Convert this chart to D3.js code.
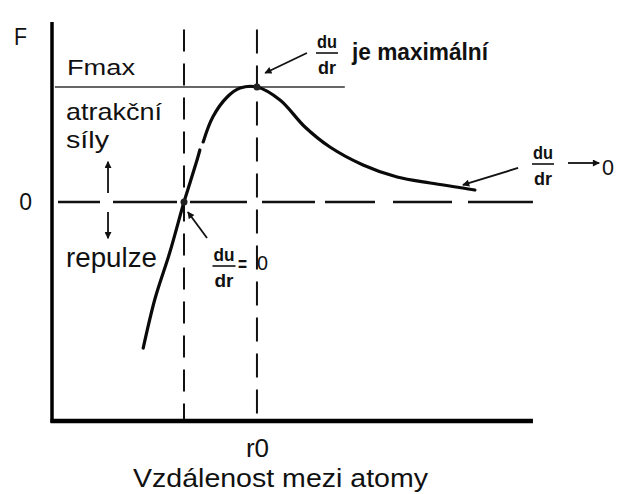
<!DOCTYPE html>
<html>
<head>
<meta charset="utf-8">
<script src="https://cdn.jsdelivr.net/npm/d3@7"></script>
<style>
  html, body { margin: 0; padding: 0; background: #fff; }
  svg { display: block; font-family: "Liberation Sans", Arial, sans-serif; }
</style>
</head>
<body>
<svg id="chart" width="617" height="494"></svg>
<script>
// Force between two atoms as a function of their separation
const distance = [1.9, 2.15, 2.45, 2.75, 2.88, 3.04, 3.08, 3.11, 3.15, 3.35, 3.65, 3.92, 4.27, 4.75, 5.27, 5.79, 6.48, 7.19, 7.88, 8.56, 8.81];
const force    = [-1.27, -0.835, -0.444, 0, 0.174, 0.391, 0.452, null, 0.522, 0.739, 0.913, 0.991, 1.0, 0.887, 0.652, 0.478, 0.322, 0.217, 0.165, 0.122, 0.104];

// Reference levels and marked separations
const zeroCrossing = 2.75;   // du/dr = 0
const r0 = 4.27;             // du/dr is maximal
const fMax = 1.0;
const yTickValues = [0];
const yTickLabels = ["0"];
const xTickValues = [r0];
const xTickLabels = ["r0"];

const svg = d3.select("#chart");
const W = 617, H = 494;
const margin = { left: 52, top: 22, right: 85, bottom: 72 };
const innerW = W - margin.left - margin.right;
const innerH = H - margin.top - margin.bottom;

const x = d3.scaleLinear().domain([0, 10]).range([margin.left, margin.left + innerW]);
const y = d3.scaleLinear().domain([-1.913, 1.565]).range([margin.top + innerH, margin.top]);

// Arrowhead marker
const defs = svg.append("defs");
defs.append("marker")
  .attr("id", "head")
  .attr("viewBox", "0 0 10 10")
  .attr("refX", 9).attr("refY", 5)
  .attr("markerWidth", 9).attr("markerHeight", 7)
  .attr("markerUnits", "userSpaceOnUse")
  .attr("orient", "auto")
  .append("path").attr("d", "M0,0 L10,5 L0,10 Z").attr("fill", "#111");

// Fmax reference line
svg.append("line")
  .attr("x1", x(0.06)).attr("x2", x(6.1))
  .attr("y1", y(fMax)).attr("y2", y(fMax))
  .attr("stroke", "#333").attr("stroke-width", 1.6);

// Dashed zero line
svg.append("line")
  .attr("x1", x(0.125)).attr("x2", x(10.02))
  .attr("y1", y(0)).attr("y2", y(0))
  .attr("stroke", "#111").attr("stroke-width", 2.3)
  .attr("stroke-dasharray", "42 13 64 13 57 15 53 10 50 18 59 16 65 100");

// Dashed verticals at the zero crossing and at r0
svg.selectAll("line.guide")
  .data([zeroCrossing, r0])
  .join("line")
  .attr("class", "guide")
  .attr("x1", d => x(d)).attr("x2", d => x(d))
  .attr("y1", y(1.5)).attr("y2", y(-1.91))
  .attr("stroke", "#111").attr("stroke-width", 2)
  .attr("stroke-dasharray", (d, i) => i === 0 ? "22 12" : "24 12");

// Axes drawn with d3 axis generators, no tick marks
const yAxis = d3.axisLeft(y).tickValues(yTickValues).tickFormat((d, i) => yTickLabels[i]).tickSize(0).tickPadding(20);
const xAxis = d3.axisBottom(x).tickValues(xTickValues).tickFormat((d, i) => xTickLabels[i]).tickSize(0).tickPadding(17);

const gy = svg.append("g").attr("transform", `translate(${margin.left},0)`).call(yAxis);
gy.select(".domain").remove();
gy.selectAll("text").attr("font-size", 23).attr("fill", "#111").attr("font-family", "Liberation Sans, Arial, sans-serif");

const gx = svg.append("g").attr("transform", `translate(0,${margin.top + innerH})`).call(xAxis);
gx.select(".domain").remove();
gx.selectAll("text").attr("font-size", 26).attr("fill", "#111").attr("font-family", "Liberation Sans, Arial, sans-serif");

svg.append("line")
  .attr("x1", x(0)).attr("x2", x(0))
  .attr("y1", y(1.565)).attr("y2", y(-1.92))
  .attr("stroke", "#000").attr("stroke-width", 3.5);
svg.append("line")
  .attr("x1", x(-0.03)).attr("x2", x(10.02))
  .attr("y1", y(-1.905)).attr("y2", y(-1.905))
  .attr("stroke", "#000").attr("stroke-width", 4.5);

// Force curve
const pts = distance.map((r, i) => ({ r, f: force[i] }));
const line = d3.line()
  .defined(d => d.f !== null)
  .x(d => x(d.r)).y(d => y(d.f))
  .curve(d3.curveCatmullRom.alpha(0.5));
svg.append("path")
  .datum(pts)
  .attr("d", line)
  .attr("fill", "none")
  .attr("stroke", "#0a0a0a")
  .attr("stroke-width", 3.2)
  .attr("stroke-linecap", "round");

// Marked points on the curve
svg.selectAll("circle.mark")
  .data([[zeroCrossing, 0], [r0, fMax]])
  .join("circle")
  .attr("class", "mark")
  .attr("cx", d => x(d[0])).attr("cy", d => y(d[1]))
  .attr("r", 3.5).attr("fill", "#222");

// Annotation arrows (in data units)
const arrows = [
  { from: [5.31, 1.296], to: [4.44, 1.122] },
  { from: [9.71, 0.296], to: [8.56, 0.148] },
  { from: [3.23, -0.313], to: [2.83, -0.087] },
  { from: [10.75, 0.339], to: [11.4, 0.339] },
  { from: [1.167, 0.078], to: [1.167, 0.35] },
  { from: [1.167, -0.087], to: [1.167, -0.315] }
];
svg.selectAll("line.arrow")
  .data(arrows)
  .join("line")
  .attr("class", "arrow")
  .attr("x1", d => x(d.from[0])).attr("y1", d => y(d.from[1]))
  .attr("x2", d => x(d.to[0])).attr("y2", d => y(d.to[1]))
  .attr("stroke", "#111").attr("stroke-width", 1.8)
  .attr("marker-end", "url(#head)");

// Text labels
function label(txt, px, py, size, opts = {}) {
  const t = svg.append("text")
    .attr("x", px).attr("y", py)
    .attr("font-size", size)
    .attr("fill", "#111")
    .attr("font-weight", opts.bold ? "bold" : "normal")
    .text(txt);
  if (opts.len) t.attr("textLength", opts.len).attr("lengthAdjust", "spacingAndGlyphs");
  if (opts.anchor) t.attr("text-anchor", opts.anchor);
  return t;
}

label("F", 14, 45, 23, { len: 13 });
label("Fmax", 67, 75, 22, { len: 68 });
label("atrakční", 66, 120, 24, { len: 96 });
label("síly", 66, 148, 24, { len: 43 });
label("repulze", 66, 267, 27, { len: 91 });
label("Vzdálenost mezi atomy", 133, 487, 26, { len: 295 });

// du/dr fractions
function fraction(cx, barY, size, width) {
  label("du", cx, barY - 5, size, { bold: true, anchor: "middle", len: width });
  svg.append("line")
    .attr("x1", cx - width / 2 - 1).attr("x2", cx + width / 2 + 1)
    .attr("y1", barY).attr("y2", barY)
    .attr("stroke", "#111").attr("stroke-width", 1.6);
  label("dr", cx, barY + 21, size, { bold: true, anchor: "middle", len: width - 2 });
}

fraction(327, 53, 18, 20);
label("je maximální", 352, 60, 23, { bold: true, len: 136 });

fraction(543, 164, 18, 20);
label("0", 602, 175, 22, { len: 12 });

fraction(224, 266, 18, 21);
label("=", 238, 271, 20, { bold: true, len: 9 });
label("0", 257, 270, 20, { len: 11 });
</script>
</body>
</html>
